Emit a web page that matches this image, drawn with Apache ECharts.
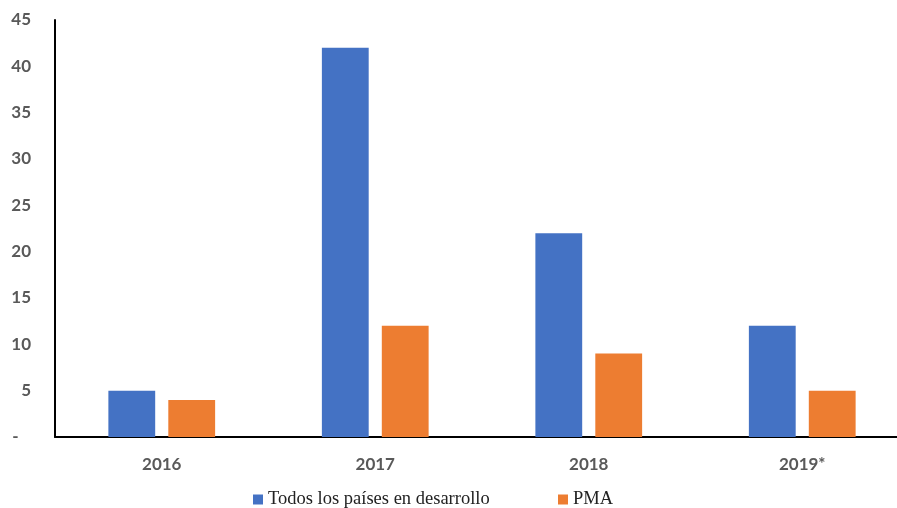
<!DOCTYPE html>
<html>
<head>
<meta charset="utf-8">
<script src="https://cdn.jsdelivr.net/npm/echarts@6/dist/echarts.min.js"></script>
<style>html,body{margin:0;padding:0;background:#fff;overflow:hidden}#c{width:909px;height:508px}</style>
</head>
<body>
<div id="c"></div>
<script>
const categories = ['2016', '2017', '2018', '2019*'];
const seriesNames = ['Todos los países en desarrollo', 'PMA'];
const allDeveloping = [5, 42, 22, 12];
const ldc = [4, 12, 9, 5];
const yTicks = { min: 0, max: 45, interval: 5 };

const chart = echarts.init(document.getElementById('c'));
chart.setOption({
  animation: false,
  grid: { left: 55, top: 20, bottom: 71, right: 0, containLabel: false },
  legend: [
    { data: [seriesNames[0]], left: 248, top: 485, itemWidth: 10, itemHeight: 10, icon: 'rect',
      textStyle: { fontFamily: 'Liberation Serif', fontSize: 18.5, color: '#222' } },
    { data: [seriesNames[1]], left: 553, top: 485, itemWidth: 10, itemHeight: 10, icon: 'rect',
      textStyle: { fontFamily: 'Liberation Serif', fontSize: 18.5, color: '#222' } }
  ],
  xAxis: {
    type: 'category', data: categories,
    axisLine: { lineStyle: { color: '#000', width: 2 } },
    axisTick: { show: false },
    axisLabel: { margin: 19, fontFamily: 'Lato', fontWeight: 'bold', fontSize: 17, color: '#595959' }
  },
  yAxis: {
    type: 'value', min: yTicks.min, max: yTicks.max, interval: yTicks.interval,
    axisLine: { show: true, lineStyle: { color: '#000', width: 2 } },
    axisTick: { show: false },
    splitLine: { show: false },
    axisLabel: { margin: 24, fontFamily: 'Lato', fontWeight: 'bold', fontSize: 17, color: '#595959',
      formatter: v => v === 0 ? '-   ' : String(v) }
  },
  series: [
    { name: seriesNames[0], type: 'bar', data: allDeveloping, barGap: '28%', barCategoryGap: '50%',
      itemStyle: { color: '#4472C4' } },
    { name: seriesNames[1], type: 'bar', data: ldc,
      itemStyle: { color: '#ED7D31' } }
  ]
});
</script>
</body>
</html>
